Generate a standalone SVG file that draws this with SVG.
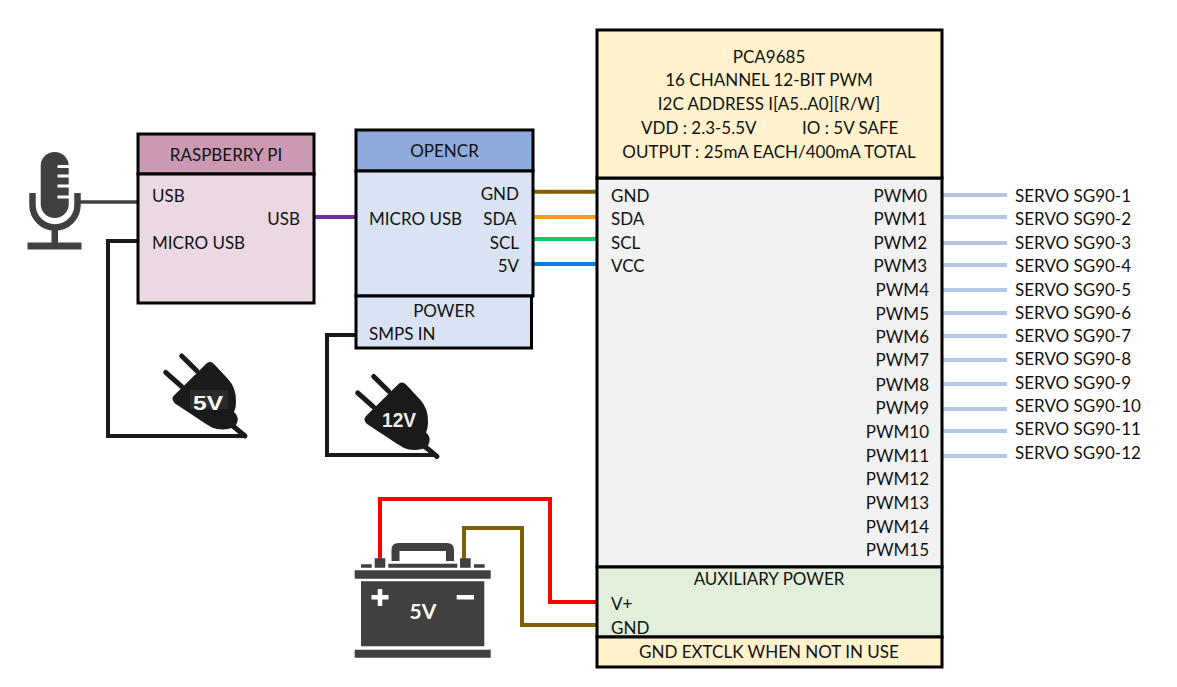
<svg xmlns="http://www.w3.org/2000/svg" xmlns:xlink="http://www.w3.org/1999/xlink" width="1177" height="687" viewBox="0 0 1177 687">
<style>
text{font-family:Lato,"Noto Sans",sans-serif;font-size:17px;fill:#111}
.m{text-anchor:middle}.e{text-anchor:end}
.b{stroke:#000;stroke-width:3}
.s{stroke:#b4c7e7;stroke-width:4;fill:none}
.ic{fill:#404040}
.pl{fill:#1a1a1a}
.plw{font-family:"Liberation Sans",Arial,sans-serif;font-weight:700;font-size:21px;fill:#fff;text-anchor:middle}
</style>
<defs>
<g id="plug-shape">
<path class="pl" d="M206.500,363.500Q210.500,360.500 214,364L228,379Q236.500,388 236,402Q236,408 234,412Q238.500,416 237.500,421Q236,428 230,428.500Q220,431 212,427.500Q204,423 197,418L175,403.500Q170.500,399 174,395.500Z"/>
<path d="M181.700,356L196.700,370.700M165.700,372.300L181.700,386.700M228,422L245,436" stroke="#1a1a1a" stroke-width="5" stroke-linecap="round" fill="none"/>
</g>
</defs>
<rect width="1177" height="687" fill="#fff"/>
<g id="connectors">
<path d="M80,202H138" stroke="#404040" stroke-width="3.500" fill="none"/>
<path d="M138,241H108V436H245" stroke="#1a1a1a" stroke-width="4" fill="none"/>
<path d="M356,335H327V455H436" stroke="#1a1a1a" stroke-width="4" fill="none"/>
<path d="M314,217H358" stroke="#7030a0" stroke-width="4" fill="none"/>
<path d="M533,191.700H597" stroke="#7f6000" stroke-width="4" fill="none"/>
<path d="M533,217H597" stroke="#f79a1e" stroke-width="4" fill="none"/>
<path d="M533,239H597" stroke="#00d060" stroke-width="4" fill="none"/>
<path d="M533,264H597" stroke="#0a7ee0" stroke-width="4" fill="none"/>
<path d="M380,560V499H550V602H597" stroke="#f00" stroke-width="4" fill="none"/>
<path d="M464,560V528H522V625H597" stroke="#7f6000" stroke-width="4" fill="none"/>
<path class="s" d="M943,195H1007M943,217H1007M943,243H1007M943,265H1007M943,290H1007M943,313H1007M943,336H1007M943,360H1007M943,384H1007M943,409H1007M943,431H1007M943,456H1007"/>
</g>
<g id="microphone">
<rect class="ic" x="40.700" y="152" width="28" height="66" rx="14"/>
<path d="M57.500,166.500H70M57.500,176H70M57.500,186H70M57.500,197H70" stroke="#fff" stroke-width="3.200" fill="none"/>
<path d="M32.500,193V205A22.500,22.500 0 0 0 77.500,205V193" stroke="#404040" stroke-width="6.500" fill="none"/>
<rect class="ic" x="51.500" y="229" width="6.500" height="15"/>
<rect class="ic" x="27.500" y="242.500" width="54" height="7"/>
</g>
<g id="raspberry-pi">
<rect x="138" y="134" width="176" height="40" fill="#cc99b3" class="b"/>
<rect x="138" y="174" width="176" height="129" fill="#ebd8e3" class="b"/>
<text class="m" x="226" y="160.500">RASPBERRY PI</text>
<text x="152" y="201.500">USB</text>
<text class="e" x="300" y="224.500">USB</text>
<text x="152" y="248.500">MICRO USB</text>
</g>
<g id="opencr">
<rect x="356" y="130" width="177" height="41" fill="#8faadc" class="b"/>
<rect x="356" y="171" width="177" height="125" fill="#dae3f3" class="b"/>
<rect x="356" y="296" width="175.500" height="52" fill="#dae3f3" class="b"/>
<text class="m" x="444.500" y="156.500">OPENCR</text>
<text class="e" x="519" y="199.500">GND</text>
<text class="e" x="516.500" y="224.500">SDA</text>
<text class="e" x="519" y="248.500">SCL</text>
<text class="e" x="519" y="271.500">5V</text>
<text x="369" y="224.500">MICRO USB</text>
<text class="m" x="444" y="316.500">POWER</text>
<text x="369" y="339.500">SMPS IN</text>
</g>
<g id="plug-5v">
<use xlink:href="#plug-shape" href="#plug-shape"/>
<rect x="190" y="390" width="38" height="19" fill="#2b2b2b"/>
<text class="plw" x="208" y="410" textLength="30" lengthAdjust="spacingAndGlyphs">5V</text>
</g>
<g id="plug-12v">
<use xlink:href="#plug-shape" href="#plug-shape" transform="translate(192,20.500)"/>
<text class="plw" x="399" y="426.500" textLength="34" lengthAdjust="spacingAndGlyphs" style="fill:#eee;font-size:20px">12V</text>
</g>
<g id="battery">
<path class="ic" d="M354.700,570.300H490.700V578.700H354.700ZM361,581.300H484.300V646.300H361ZM354.700,649.700H490.700V657.700H354.700ZM374.700,558.300H385.300V567.700H374.700ZM460,558.300H470.700V567.700H460ZM361,564.300H371.700V567.700H361ZM474,564.300H484.700V567.700H474ZM388.300,563.700H457.300V567.700H388.300Z"/>
<path d="M395.500,561V550Q395.500,547 398.500,547H447Q450,547 450,550V561" stroke="#404040" stroke-width="8" fill="none"/>
<path d="M371.500,597.300H388.500M380,589V606M456.700,597.300H474" stroke="#fff" stroke-width="4.500" fill="none"/>
<text x="423" y="618.500" class="m" style="font-weight:700;font-size:21px;fill:#fff">5V</text>
</g>
<g id="pca9685">
<rect x="597" y="178" width="345" height="389" fill="#f2f2f2" class="b"/>
<rect x="597" y="30" width="345" height="148" fill="#fff2cc" class="b"/>
<rect x="597" y="567" width="345" height="70" fill="#e2efda" class="b"/>
<rect x="597" y="637" width="345" height="30" fill="#fff2cc" class="b"/>
<text class="m" x="769" y="62.500">PCA9685</text>
<text class="m" x="769" y="85.500">16 CHANNEL 12-BIT PWM</text>
<text class="m" x="769" y="109.500">I2C ADDRESS I[A5..A0][R/W]</text>
<text x="641" y="133.500">VDD : 2.3-5.5V</text>
<text x="802" y="133.500">IO : 5V SAFE</text>
<text class="m" x="769" y="157.500">OUTPUT : 25mA EACH/400mA TOTAL</text>
<text x="611" y="201.500">GND</text>
<text x="611" y="224.500">SDA</text>
<text x="611" y="248.500">SCL</text>
<text x="611" y="271.500">VCC</text>
<text class="e" x="927" y="201.500">PWM0</text>
<text class="e" x="927" y="224.500">PWM1</text>
<text class="e" x="927" y="248.500">PWM2</text>
<text class="e" x="927" y="271.500">PWM3</text>
<text class="e" x="929" y="295.500">PWM4</text>
<text class="e" x="929" y="319.500">PWM5</text>
<text class="e" x="929" y="342.500">PWM6</text>
<text class="e" x="929" y="365.500">PWM7</text>
<text class="e" x="929" y="390.500">PWM8</text>
<text class="e" x="929" y="413.500">PWM9</text>
<text class="e" x="929" y="437.500">PWM10</text>
<text class="e" x="929" y="461.500">PWM11</text>
<text class="e" x="929" y="484.500">PWM12</text>
<text class="e" x="929" y="508.500">PWM13</text>
<text class="e" x="929" y="532.500">PWM14</text>
<text class="e" x="929" y="555.500">PWM15</text>
<text class="m" x="769" y="584.500">AUXILIARY POWER</text>
<text x="611" y="609.500">V+</text>
<text x="611" y="633.500">GND</text>
<text class="m" x="769" y="657.500">GND EXTCLK WHEN NOT IN USE</text>
</g>
<g id="servos">
<text x="1015" y="201.500">SERVO SG90-1</text>
<text x="1015" y="224.500">SERVO SG90-2</text>
<text x="1015" y="248.500">SERVO SG90-3</text>
<text x="1015" y="272">SERVO SG90-4</text>
<text x="1015" y="295.500">SERVO SG90-5</text>
<text x="1015" y="318.500">SERVO SG90-6</text>
<text x="1015" y="341.500">SERVO SG90-7</text>
<text x="1015" y="365">SERVO SG90-8</text>
<text x="1015" y="388.500">SERVO SG90-9</text>
<text x="1015" y="411.500">SERVO SG90-10</text>
<text x="1015" y="434.500">SERVO SG90-11</text>
<text x="1015" y="458.500">SERVO SG90-12</text>
</g>
</svg>
